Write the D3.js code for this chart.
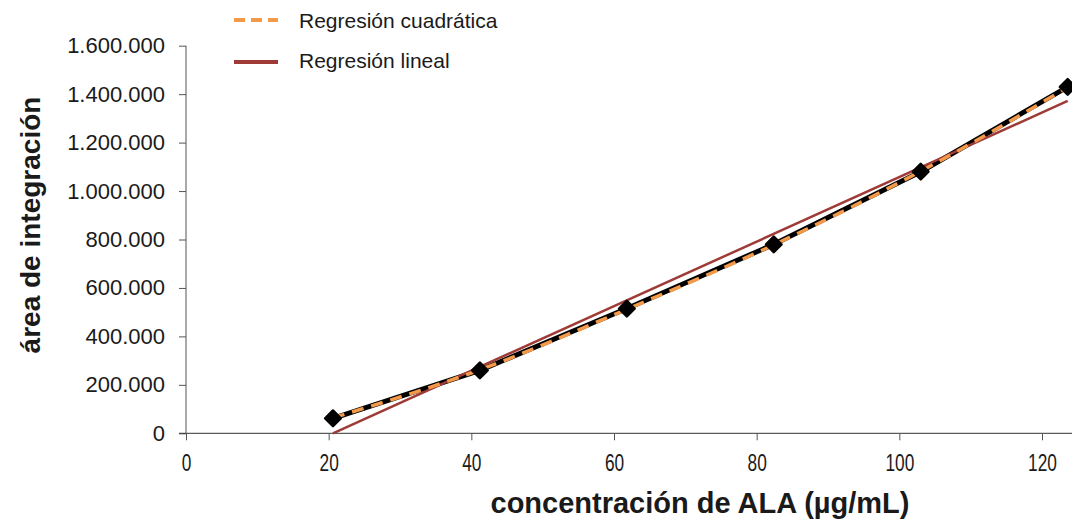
<!DOCTYPE html>
<html>
<head>
<meta charset="utf-8">
<script src="https://cdn.jsdelivr.net/npm/d3@7"></script>
<style>
body { margin: 0; background: #fff; }
text { font-family: "Liberation Sans", Arial, sans-serif; }
</style>
</head>
<body>
<div class="chart"></div>
<script>
// datos
var concentracion = [20.6, 41.2, 61.8, 82.4, 103.0, 123.6];
var area = [62000, 260000, 515000, 780000, 1080000, 1430000];
var cuadratica = [64000, 262000, 512000, 778000, 1082000, 1428000];
var linealX = [20.6, 123.6];
var linealY = [0, 1372000];
var xTicks = [0, 20, 40, 60, 80, 100, 120];
var yTicks = [0, 200000, 400000, 600000, 800000, 1000000, 1200000, 1400000, 1600000];

const width = 1072;
const height = 521;

var svg = d3.select('.chart')
  .append('svg')
  .attr('width', width)
  .attr('height', height);

var x = d3.scaleLinear().domain([0, 120]).range([186, 1042]);
var y = d3.scaleLinear().domain([0, 1600000]).range([433.3, 45.7]);

function fmt(v) {
  return d3.format(',')(v).replace(/,/g, '.');
}

// eje y
var yAxis = svg.append('g')
  .attr('transform', 'translate(186,0)')
  .call(d3.axisLeft(y).tickValues(yTicks).tickSize(7).tickFormat(fmt));
yAxis.select('.domain').attr('stroke', '#555').attr('d', 'M0,45.7V433.3');
yAxis.selectAll('.tick line').attr('stroke', '#555');
yAxis.selectAll('.tick text')
  .attr('x', -21)
  .style('font-size', '22px')
  .attr('fill', '#1a1a1a')
  .style('font-family', '"Liberation Sans", Arial, sans-serif');

// eje x
var xAxis = svg.append('g')
  .attr('transform', 'translate(0,433.3)')
  .call(d3.axisBottom(x).tickValues(xTicks).tickSize(7));
xAxis.select('.domain').attr('stroke', '#333').attr('d', 'M179,0H1072');
xAxis.selectAll('.tick line').attr('stroke', '#555');
xAxis.selectAll('.tick text')
  .attr('y', 21)
  .attr('dy', '0.71em')
  .style('font-size', '24px')
  .attr('fill', '#1a1a1a')
  .attr('transform', 'scale(0.72,1)')
  .style('font-family', '"Liberation Sans", Arial, sans-serif');

// linea de los datos
var pts = concentracion.map(function(c, i) { return [c, area[i]]; });
svg.append('path')
  .datum(pts)
  .attr('fill', 'none')
  .attr('stroke', '#000')
  .attr('stroke-width', 5)
  .attr('d', d3.line().x(function(d){return x(d[0])}).y(function(d){return y(d[1])}));

// regresion lineal
svg.append('line')
  .attr('x1', x(linealX[0])).attr('y1', y(linealY[0]))
  .attr('x2', x(linealX[1])).attr('y2', y(linealY[1]))
  .attr('stroke', '#9e3b37')
  .attr('stroke-width', 2.5);

// regresion cuadratica
var cuad = concentracion.map(function(c, i) { return [c, cuadratica[i]]; });
svg.append('path')
  .datum(cuad)
  .attr('fill', 'none')
  .attr('stroke', '#f39a4a')
  .attr('stroke-width', 3.5)
  .attr('stroke-dasharray', '12,8')
  .attr('d', d3.line().curve(d3.curveMonotoneX).x(function(d){return x(d[0])}).y(function(d){return y(d[1])}));

// marcadores
svg.selectAll('.punto')
  .data(pts)
  .enter()
  .append('path')
  .attr('class', 'punto')
  .attr('transform', function(d){return 'translate(' + x(d[0]) + ',' + y(d[1]) + ') rotate(45)'})
  .attr('d', 'M-5.5,-5.5H5.5V5.5H-5.5Z')
  .attr('fill', '#000')
  .attr('stroke', '#000')
  .attr('stroke-width', 2.5)
  .attr('stroke-linejoin', 'round');

// leyenda
svg.append('line')
  .attr('x1', 234).attr('x2', 278).attr('y1', 20).attr('y2', 20)
  .attr('stroke', '#f39a4a').attr('stroke-width', 4).attr('stroke-dasharray', '11,6');
svg.append('text')
  .attr('x', 299).attr('y', 28)
  .attr('font-size', '21px').attr('fill', '#1a1a1a')
  .text('Regresión cuadrática');
svg.append('line')
  .attr('x1', 234).attr('x2', 278).attr('y1', 62).attr('y2', 62)
  .attr('stroke', '#9e3b37').attr('stroke-width', 4);
svg.append('text')
  .attr('x', 299).attr('y', 68)
  .attr('font-size', '21px').attr('fill', '#1a1a1a')
  .text('Regresión lineal');

// titulos de ejes
svg.append('text')
  .attr('transform', 'translate(40,225) rotate(-90)')
  .attr('text-anchor', 'middle')
  .attr('font-size', '28px')
  .attr('font-weight', 'bold')
  .attr('fill', '#1a1a1a')
  .text('área de integración');
svg.append('text')
  .attr('x', 700).attr('y', 513)
  .attr('text-anchor', 'middle')
  .attr('font-size', '29px')
  .attr('font-weight', 'bold')
  .attr('fill', '#1a1a1a')
  .text('concentración de ALA (µg/mL)');
</script>
</body>
</html>
